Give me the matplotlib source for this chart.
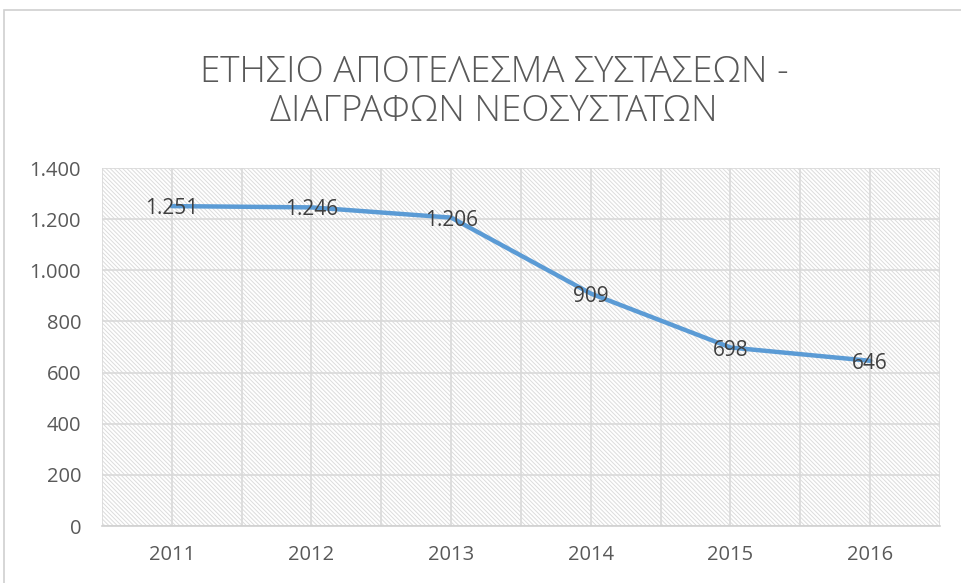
import matplotlib.pyplot as plt
from matplotlib.patches import Rectangle
from matplotlib.ticker import FuncFormatter, MultipleLocator

years = ["2011", "2012", "2013", "2014", "2015", "2016"]
values = [1251, 1246, 1206, 909, 698, 646]
title = "ΕΤΗΣΙΟ ΑΠΟΤΕΛΕΣΜΑ ΣΥΣΤΑΣΕΩΝ -\nΔΙΑΓΡΑΦΩΝ ΝΕΟΣΥΣΤΑΤΩΝ"

plt.rcParams["font.family"] = ["Open Sans", "DejaVu Sans"]
plt.rcParams["hatch.linewidth"] = 0.7


def dotted(v, _pos):
    return f"{int(v):,}".replace(",", ".")


def main() -> None:
    W, H = 962, 583
    fig = plt.figure(figsize=(W / 100, H / 100), dpi=100)

    # outer chart frame (cut off on the right / bottom)
    fig.patches.append(Rectangle((4 / W, -0.1), 1.2, 1.1 - 10 / H, transform=fig.transFigure,
                                 fill=False, edgecolor="#d0d0d0", linewidth=1.2))

    ax = fig.add_axes([102 / W, 1 - 526 / H, (940 - 102) / W, (526 - 168) / H])
    ax.add_patch(Rectangle((0, 0), 1, 1, transform=ax.transAxes, facecolor="white",
                           hatch="\\" * 8, edgecolor="#dcdcdc", linewidth=0, zorder=0))

    x = [i + 0.5 for i in range(len(years))]
    ax.plot(x, values, color="#5B9BD5", linewidth=3.2, solid_capstyle="round", zorder=3)
    for xi, v in zip(x, values):
        ax.text(xi, v, dotted(v, None), ha="center", va="center_baseline", fontsize=15,
                color="#404040", zorder=4)

    ax.set_xlim(0, len(years))
    ax.set_ylim(0, 1400)
    ax.yaxis.set_major_locator(MultipleLocator(200))
    ax.yaxis.set_major_formatter(FuncFormatter(dotted))
    ax.set_xticks(x)
    ax.set_xticklabels(years)
    ax.xaxis.set_minor_locator(MultipleLocator(0.5))
    ax.grid(True, which="both", color="#d9d9d9", linewidth=1.2, zorder=1)
    ax.set_axisbelow(True)
    ax.tick_params(axis="both", which="both", length=0, labelsize=14.5, colors="#595959")
    ax.tick_params(axis="x", pad=14)
    ax.tick_params(axis="y", pad=15)
    for s in ("left", "right", "top"):
        ax.spines[s].set_visible(False)
    ax.spines["bottom"].set_color("#d0d0d0")
    ax.spines["bottom"].set_linewidth(1.2)

    fig.text(494 / W, 1 - 92 / H, title, ha="center", va="center", fontsize=26.5,
             color="#595959", linespacing=1.05, fontweight="light")

    fig.savefig("out.png", dpi=100)


if __name__ == "__main__":
    main()
